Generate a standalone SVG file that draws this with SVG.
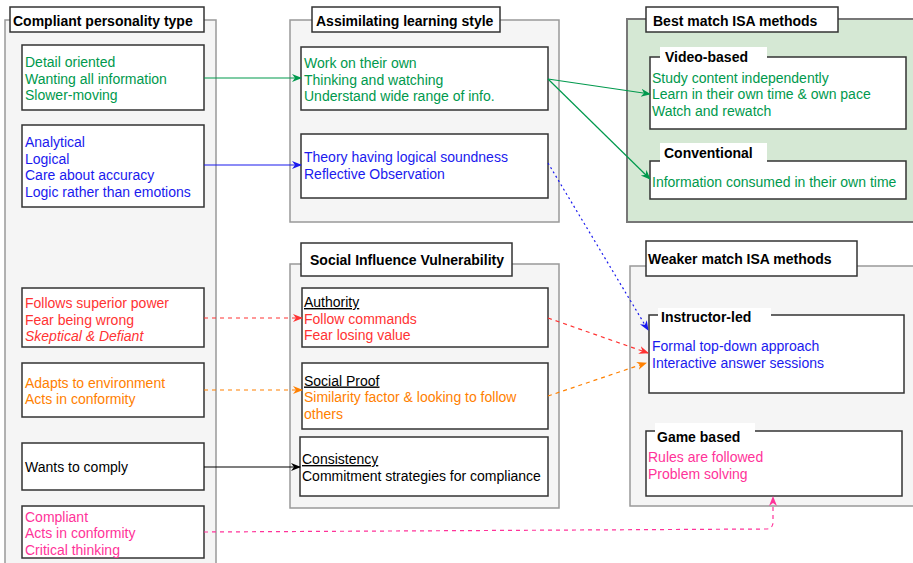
<svg xmlns="http://www.w3.org/2000/svg" width="913" height="563" viewBox="0 0 913 563">
<style>
text{font-family:"Liberation Sans",Arial,sans-serif;font-size:14px}
.b{font-weight:bold;fill:#000}
.cont{fill:#f5f5f5;stroke:#999;stroke-width:1.5}
.box{fill:#fff;stroke:#333;stroke-width:1.5}
.ttl{fill:#fff;stroke:#333;stroke-width:1.5}
.g{fill:#00994D}.bl{fill:#1a1aee}.r{fill:#ff3333}.o{fill:#ff8000}.p{fill:#ff3399}.k{fill:#000}
.c{fill:none;stroke-width:1.2}
</style>
<defs>
<marker id="ag" viewBox="0 0 10 10" refX="9" refY="5" markerWidth="10" markerHeight="10" markerUnits="userSpaceOnUse" orient="auto"><path d="M0,1 L10,5 L0,9 L3,5 z" fill="#00994D"/></marker>
<marker id="ab" viewBox="0 0 10 10" refX="9" refY="5" markerWidth="10" markerHeight="10" markerUnits="userSpaceOnUse" orient="auto"><path d="M0,1 L10,5 L0,9 L3,5 z" fill="#1a1aee"/></marker>
<marker id="ar" viewBox="0 0 10 10" refX="9" refY="5" markerWidth="10" markerHeight="10" markerUnits="userSpaceOnUse" orient="auto"><path d="M0,1 L10,5 L0,9 L3,5 z" fill="#ff3333"/></marker>
<marker id="ao" viewBox="0 0 10 10" refX="9" refY="5" markerWidth="10" markerHeight="10" markerUnits="userSpaceOnUse" orient="auto"><path d="M0,1 L10,5 L0,9 L3,5 z" fill="#ff8000"/></marker>
<marker id="ap" viewBox="0 0 10 10" refX="9" refY="5" markerWidth="10" markerHeight="10" markerUnits="userSpaceOnUse" orient="auto"><path d="M0,1 L10,5 L0,9 L3,5 z" fill="#ff3399"/></marker>
<marker id="ak" viewBox="0 0 10 10" refX="9" refY="5" markerWidth="10" markerHeight="10" markerUnits="userSpaceOnUse" orient="auto"><path d="M0,1 L10,5 L0,9 L3,5 z" fill="#000"/></marker>
</defs>
<rect width="913" height="563" fill="#fff"/>

<!-- Containers -->
<g id="compliant-personality">
<rect class="cont" x="5" y="20" width="211" height="545"/>
<rect class="ttl" x="10" y="7" width="194" height="25"/>
<text class="b" x="13" y="26">Compliant personality type</text>
</g>
<g id="assimilating-learning">
<rect class="cont" x="290" y="20" width="269" height="202"/>
<rect class="ttl" x="312" y="7" width="188" height="25"/>
<text class="b" x="316" y="26">Assimilating learning style</text>
</g>
<g id="best-match">
<rect x="627" y="19" width="290" height="203" fill="#d5e8d4" stroke="#777" stroke-width="2"/>
<rect class="ttl" x="646" y="7" width="192" height="25"/>
<text class="b" x="653" y="26">Best match ISA methods</text>
</g>
<g id="social-influence">
<rect class="cont" x="290" y="264" width="269" height="244"/>
<rect class="ttl" x="301" y="243" width="211" height="33"/>
<text class="b" x="310" y="265">Social Influence Vulnerability</text>
</g>
<g id="weaker-match">
<rect class="cont" x="630" y="266" width="290" height="240"/>
<rect class="ttl" x="646" y="241" width="211" height="35"/>
<text class="b" x="648" y="264">Weaker match ISA methods</text>
</g>

<!-- Left boxes -->
<g id="detail-oriented">
<rect class="box" x="22" y="45" width="182" height="65"/>
<text class="g" x="25" y="67">Detail oriented</text>
<text class="g" x="25" y="83.5">Wanting all information</text>
<text class="g" x="25" y="100">Slower-moving</text>
</g>
<g id="analytical">
<rect class="box" x="22" y="125" width="182" height="82"/>
<text class="bl" x="25" y="147">Analytical</text>
<text class="bl" x="25" y="163.5">Logical</text>
<text class="bl" x="25" y="180">Care about accuracy</text>
<text class="bl" x="25" y="196.5">Logic rather than emotions</text>
</g>
<g id="follows-superior">
<rect class="box" x="22" y="288" width="182" height="59"/>
<text class="r" x="25" y="308">Follows superior power</text>
<text class="r" x="25" y="324.5">Fear being wrong</text>
<text class="r" x="25" y="341" font-style="italic">Skeptical &amp; Defiant</text>
</g>
<g id="adapts">
<rect class="box" x="22" y="363" width="182" height="54"/>
<text class="o" x="25" y="388">Adapts to environment</text>
<text class="o" x="25" y="404">Acts in conformity</text>
</g>
<g id="wants-comply">
<rect class="box" x="22" y="443" width="182" height="47"/>
<text class="k" x="25" y="472">Wants to comply</text>
</g>
<g id="compliant">
<rect class="box" x="22" y="506" width="182" height="52"/>
<text class="p" x="25" y="521.5">Compliant</text>
<text class="p" x="25" y="538">Acts in conformity</text>
<text class="p" x="25" y="554.5">Critical thinking</text>
</g>

<!-- Middle boxes -->
<g id="work-own">
<rect class="box" x="301" y="47" width="247" height="63"/>
<text class="g" x="304" y="68">Work on their own</text>
<text class="g" x="304" y="84.5">Thinking and watching</text>
<text class="g" x="304" y="101">Understand wide range of info.</text>
</g>
<g id="theory">
<rect class="box" x="301" y="134" width="247" height="64"/>
<text class="bl" x="304" y="162">Theory having logical soundness</text>
<text class="bl" x="304" y="178.5">Reflective Observation</text>
</g>
<g id="authority">
<rect class="box" x="302" y="288" width="246" height="59"/>
<text class="k" x="304" y="307" text-decoration="underline">Authority</text>
<text class="r" x="304" y="323.5">Follow commands</text>
<text class="r" x="304" y="340">Fear losing value</text>
</g>
<g id="social-proof">
<rect class="box" x="302" y="363" width="246" height="66"/>
<text class="k" x="304" y="385.5" text-decoration="underline">Social Proof</text>
<text class="o" x="304" y="402">Similarity factor &amp; looking to follow</text>
<text class="o" x="304" y="418.5">others</text>
</g>
<g id="consistency">
<rect class="box" x="300" y="437" width="248" height="59"/>
<text class="k" x="302" y="464" text-decoration="underline">Consistency</text>
<text class="k" x="302" y="480.5">Commitment strategies for compliance</text>
</g>

<!-- Right boxes -->
<g id="video-based">
<rect class="box" x="650" y="57" width="256" height="72"/>
<rect x="660" y="47" width="107" height="20" fill="#fff"/>
<text class="b" x="665" y="62">Video-based</text>
<text class="g" x="652" y="82.5">Study content independently</text>
<text class="g" x="652" y="99">Learn in their own time &amp; own pace</text>
<text class="g" x="652" y="115.5">Watch and rewatch</text>
</g>
<g id="conventional">
<rect class="box" x="650" y="161" width="256" height="38"/>
<rect x="660" y="143" width="107" height="20" fill="#fff"/>
<text class="b" x="664" y="158">Conventional</text>
<text class="g" x="652" y="187">Information consumed in their own time</text>
</g>
<g id="instructor-led">
<rect class="box" x="649" y="315" width="255" height="78"/>
<rect x="658" y="308" width="113" height="20" fill="#fff"/>
<text class="b" x="661" y="322">Instructor-led</text>
<text class="bl" x="652" y="351">Formal top-down approach</text>
<text class="bl" x="652" y="367.5">Interactive answer sessions</text>
</g>
<g id="game-based">
<rect class="box" x="646" y="431" width="256" height="65"/>
<rect x="655" y="423" width="100" height="20" fill="#fff"/>
<text class="b" x="657" y="442">Game based</text>
<text class="p" x="648" y="462">Rules are followed</text>
<text class="p" x="648" y="478.5">Problem solving</text>
</g>

<!-- Connectors -->
<g id="connectors">
<path class="c" stroke="#00994D" d="M204 78 L301 78" marker-end="url(#ag)"/>
<path class="c" stroke="#1a1aee" d="M204 165 L301 165" marker-end="url(#ab)"/>
<path class="c" stroke="#00994D" d="M548 79 L650 94" marker-end="url(#ag)"/>
<path class="c" stroke="#00994D" d="M548 79 L650 179" marker-end="url(#ag)"/>
<path class="c" stroke="#1a1aee" stroke-dasharray="2 3" stroke-width="1.5" d="M548 163 L648 330" marker-end="url(#ab)"/>
<path class="c" stroke="#ff3333" stroke-dasharray="4 4" d="M204 318 L302 318" marker-end="url(#ar)"/>
<path class="c" stroke="#ff3333" stroke-dasharray="4 4" d="M548 318 L648 353" marker-end="url(#ar)"/>
<path class="c" stroke="#ff8000" stroke-dasharray="4 4" d="M204 390 L302 390" marker-end="url(#ao)"/>
<path class="c" stroke="#ff8000" stroke-dasharray="4 4" d="M548 396 L646 363" marker-end="url(#ao)"/>
<path class="c" stroke="#000" d="M204 467 L300 467" marker-end="url(#ak)"/>
<path class="c" stroke="#ff3399" stroke-dasharray="4 4" d="M204 532 L766 529 Q773 529 773 522 L773 497" marker-end="url(#ap)"/>
</g>
</svg>
